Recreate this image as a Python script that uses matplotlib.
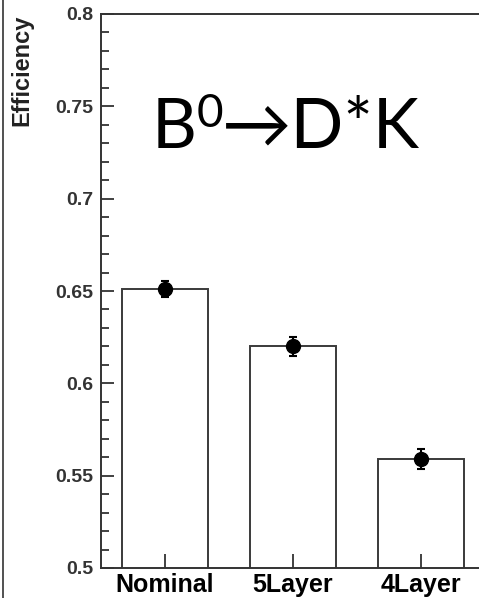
import numpy as np
import matplotlib.pyplot as plt
from matplotlib.ticker import MultipleLocator
from matplotlib.lines import Line2D

# data
categories = ["Nominal", "5Layer", "4Layer"]
efficiency = [0.651, 0.620, 0.559]
errors = [0.0045, 0.005, 0.0055]

W, H = 479, 598
fig = plt.figure(figsize=(W / 100, H / 100), dpi=100)
# axes box in pixels: left 101, right 485 (runs off the picture), top 14, bottom 568
ax = fig.add_axes([101 / W, (H - 568) / H, 384 / W, 554 / H])

x = np.arange(len(categories))
ax.bar(x, efficiency, width=0.67, color="white", edgecolor="#3a3a3a", linewidth=1.4)
ax.errorbar(x, efficiency, yerr=errors, fmt="o", color="black", markersize=10,
            capsize=3, elinewidth=1.5, capthick=1.5)

ax.set_xlim(-0.5, 2.5)
ax.set_ylim(0.5, 0.8)
ax.set_xticks(x)
ax.set_xticklabels(categories, fontsize=18, fontweight="bold", family="Liberation Sans")
ax.yaxis.set_major_locator(MultipleLocator(0.05))
ax.yaxis.set_minor_locator(MultipleLocator(0.01))
ax.set_yticks([0.5, 0.55, 0.6, 0.65, 0.7, 0.75, 0.8])
ax.set_yticklabels(["0.5", "0.55", "0.6", "0.65", "0.7", "0.75", "0.8"],
                   fontsize=14, fontweight="bold", family="Liberation Sans")
ax.tick_params(axis="y", which="major", direction="in", length=9.4, width=1.3,
               pad=5.5, colors="#333333", labelcolor="#333333", right=False)
ax.tick_params(axis="y", which="minor", direction="in", length=5.5, width=1.3,
               colors="#333333", right=False)
ax.tick_params(axis="x", which="major", direction="in", length=10, width=1.3,
               pad=3.5, colors="#333333", labelcolor="black", top=False)
for s in ax.spines.values():
    s.set_linewidth(1.4)
    s.set_color("#333333")

# y label at the top left, ROOT style
fig.text(22 / W, 1 - 15 / H, "Efficiency", rotation=90, ha="center", va="top",
         fontsize=17, fontweight="bold", family="Liberation Sans", color="#222222")

# overlaid title
big = 50
fig.text(152 / W, 1 - 148 / H, "B", fontsize=big, family=["Lato", "DejaVu Sans"],
         ha="left", va="baseline")
fig.text(197 / W, 1 - 127 / H, "0", fontsize=big * 0.66, family=["Lato", "DejaVu Sans"],
         ha="left", va="baseline")
fig.text(222 / W, 1 - 148 / H, "\u2192D*K", fontsize=big, family=["Lato", "DejaVu Sans"],
         ha="left", va="baseline")

# thin frame line on the left edge
fig.add_artist(Line2D([2.5 / W, 2.5 / W], [0, 1], transform=fig.transFigure,
                      color="#333333", linewidth=1.2))

fig.savefig("out.png", dpi=100)
